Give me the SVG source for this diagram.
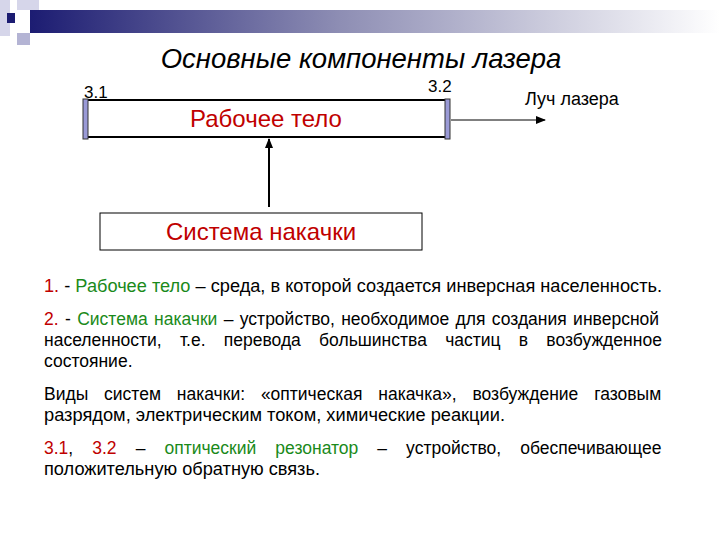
<svg xmlns="http://www.w3.org/2000/svg" width="720" height="540" viewBox="0 0 720 540">
<defs>
<linearGradient id="bar" x1="0" x2="1" y1="0" y2="0">
<stop offset="0" stop-color="#1c1c72"/><stop offset="0.45" stop-color="#8e8eb4"/><stop offset="1" stop-color="#ffffff"/>
</linearGradient>
<marker id="ah" markerWidth="10" markerHeight="8" refX="9" refY="4" orient="auto" markerUnits="userSpaceOnUse"><path d="M0,0 L10,4 L0,8 z" fill="#000"/></marker>
<style>
text{font-family:"Liberation Sans",Arial,sans-serif;}
.b{font-size:17.5px;fill:#000}
.r{fill:#c00000}.g{fill:#1a8a1a}
.lbl{font-size:24px;fill:#c00000}
.mir{fill:#9a9ad6;stroke:#333;stroke-width:1}
</style>
</defs>
<rect width="720" height="540" fill="#fff"/>
<rect x="30" y="10" width="690" height="23" fill="url(#bar)"/>
<rect x="17" y="0" width="22" height="10" fill="#d6d6ea"/>
<rect x="0" y="0" width="10" height="36" fill="#d6d6ea"/>
<rect x="17" y="33" width="13" height="12" fill="#b4b4d4"/>
<rect x="7" y="13" width="8" height="10" fill="#1c1c72"/>
<text x="361" y="68" text-anchor="middle" font-size="27.5" font-style="italic" fill="#000">Основные компоненты лазера</text>
<g id="connectors">
<line x1="269" y1="207" x2="269" y2="139" stroke="#000" stroke-width="2" marker-end="url(#ah)"/>
<line x1="451" y1="120" x2="545" y2="120" stroke="#000" stroke-width="1" marker-end="url(#ah)"/>
</g>
<g id="body">
<rect x="86" y="100" width="361" height="37" fill="#fff" stroke="#000" stroke-width="2"/>
<text class="lbl" x="266" y="127" text-anchor="middle">Рабочее тело</text>
</g>
<g id="m31"><rect class="mir" x="83" y="99" width="5" height="40"/><text x="84" y="98" font-size="17">3.1</text></g>
<g id="m32"><rect class="mir" x="445" y="99" width="5" height="40"/><text x="428" y="92" font-size="17">3.2</text></g>
<g id="beam"><text x="525" y="105" font-size="18">Луч лазера</text></g>
<g id="pump">
<rect x="100" y="213" width="322" height="37" fill="#fff" stroke="#000" stroke-width="1"/>
<text class="lbl" x="261" y="240" text-anchor="middle">Система накачки</text>
</g>
<text class="b" x="44" y="292" textLength="618" lengthAdjust="spacingAndGlyphs"><tspan class="r">1.</tspan> - <tspan class="g">Рабочее тело</tspan> – среда, в которой создается инверсная населенность.</text>
<text class="b" x="44" y="325" word-spacing="1.5"><tspan class="r">2.</tspan> - <tspan class="g">Система накачки</tspan> – устройство, необходимое для создания инверсной</text>
<text class="b" x="44" y="346" word-spacing="13.4">населенности, т.е. перевода большинства частиц в возбужденное</text>
<text class="b" x="44" y="367">состояние.</text>
<text class="b" x="44" y="400" word-spacing="11">Виды систем накачки: «оптическая накачка», возбуждение газовым</text>
<text class="b" x="44" y="421" textLength="461" lengthAdjust="spacingAndGlyphs">разрядом, электрическим током, химические реакции.</text>
<text class="b" x="44" y="454" word-spacing="14.2"><tspan class="r">3.1</tspan>, <tspan class="r">3.2</tspan> – <tspan class="g">оптический резонатор</tspan> – устройство, обеспечивающее</text>
<text class="b" x="44" y="475" textLength="276" lengthAdjust="spacingAndGlyphs">положительную обратную связь.</text>
</svg>
